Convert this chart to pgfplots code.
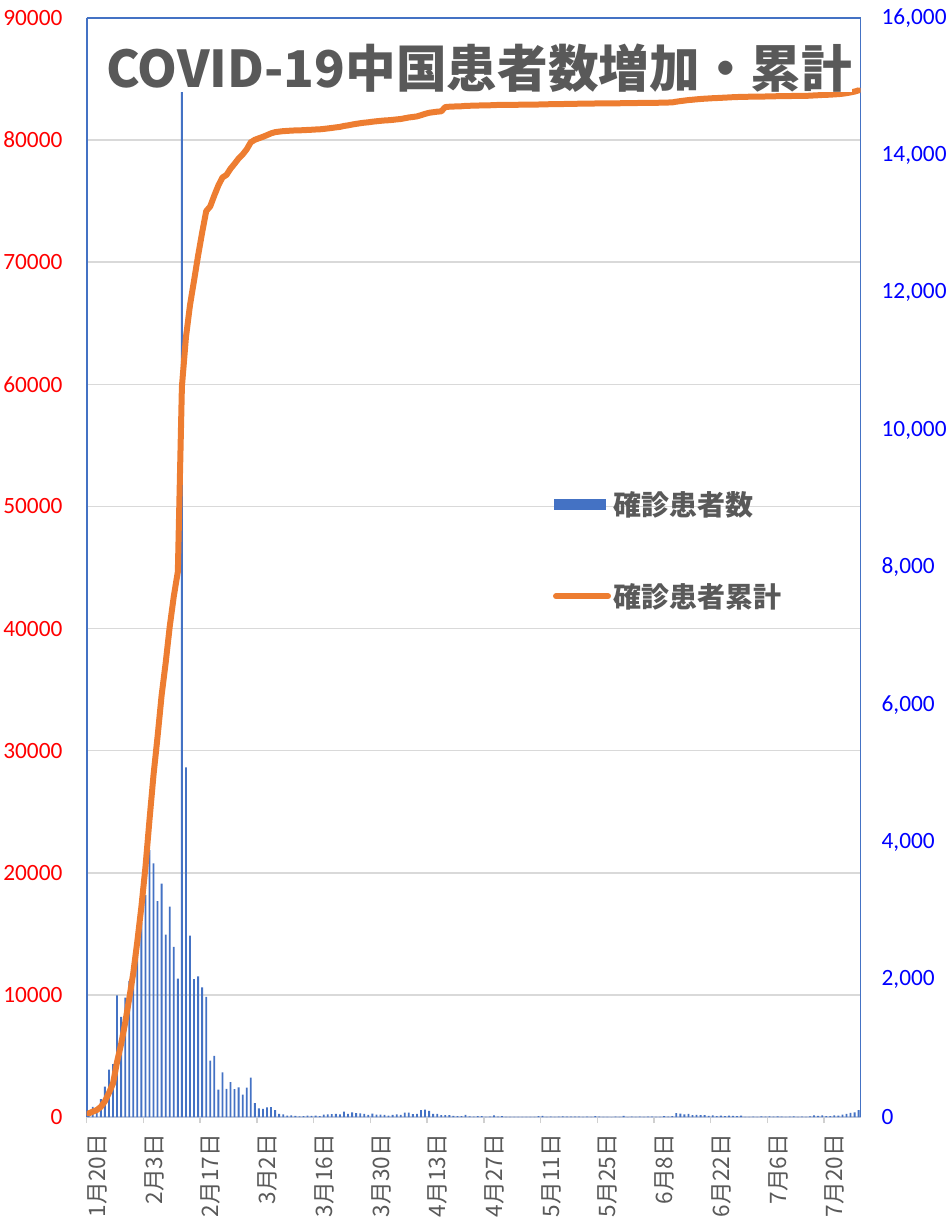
\documentclass[border=0pt]{standalone}
\usepackage{pgfplots}
\pgfplotsset{compat=1.18}
\usepackage{pgfplotstable}
\usepackage{fontspec}
\setmainfont{Carlito}
\newfontfamily\cjk{Noto Sans CJK JP}
\definecolor{barblue}{HTML}{4472C4}
\definecolor{lineorange}{HTML}{ED7D31}
\definecolor{gridgray}{HTML}{D9D9D9}
\definecolor{txtgray}{HTML}{595959}
\definecolor{axisgray}{HTML}{C3CBDC}
\definecolor{tickgray}{HTML}{D0D0D0}

% d = days since 1/20, new = daily confirmed, cum = cumulative confirmed
\pgfplotstableread{
d new cum
0 77 291
1 149 440
2 131 571
3 259 830
4 444 1287
5 688 1975
6 769 2744
7 1771 4515
8 1459 5974
9 1737 7711
10 1982 9692
11 2102 11791
12 2590 14380
13 2829 17205
14 3235 20438
15 3887 24324
16 3694 28018
17 3143 31161
18 3399 34546
19 2656 37198
20 3062 40171
21 2478 42638
22 2015 44653
23 15152 59804
24 5090 63851
25 2641 66492
26 2009 68500
27 2048 70548
28 1886 72436
29 1749 74185
30 820 74576
31 889 75465
32 397 76288
33 648 76936
34 409 77150
35 508 77658
36 406 78064
37 433 78497
38 327 78824
39 427 79251
40 573 79824
41 202 80026
42 125 80151
43 119 80270
44 139 80409
45 143 80552
46 99 80651
47 44 80695
48 40 80735
49 19 80754
50 24 80778
51 15 80793
52 8 80801
53 11 80812
54 20 80832
55 16 80848
56 21 80869
57 13 80882
58 34 80916
59 39 80955
60 41 80996
61 46 81042
62 39 81081
63 78 81159
64 47 81206
65 67 81273
66 55 81328
67 54 81382
68 45 81427
69 31 81458
70 48 81506
71 36 81542
72 35 81577
73 31 81608
74 19 81627
75 30 81657
76 39 81696
77 32 81728
78 62 81790
79 63 81853
80 42 81895
81 46 81941
82 99 82040
83 108 82148
84 89 82237
85 46 82283
86 46 82329
87 26 82355
88 26 82706
89 27 82733
90 16 82749
91 12 82761
92 11 82772
93 30 82802
94 10 82812
95 6 82818
96 12 82830
97 11 82841
98 3 82844
99 6 82850
100 22 82872
101 4 82876
102 12 82888
103 1 82889
104 2 82891
105 3 82894
106 1 82895
107 2 82897
108 2 82899
109 1 82900
110 1 82901
111 14 82915
112 17 82932
113 1 82933
114 7 82940
115 3 82943
116 4 82947
117 8 82955
118 6 82961
119 7 82968
120 6 82974
121 5 82979
122 2 82981
123 4 82985
124 3 82988
125 11 82999
126 7 83006
127 1 83007
128 2 83009
129 0 83009
130 4 83013
131 2 83015
132 16 83031
133 0 83031
134 4 83035
135 1 83036
136 5 83041
137 3 83044
138 6 83050
139 4 83054
140 3 83057
141 3 83060
142 11 83071
143 7 83078
144 11 83089
145 57 83146
146 49 83195
147 40 83235
148 44 83279
149 28 83307
150 32 83339
151 27 83366
152 26 83392
153 18 83410
154 22 83432
155 12 83444
156 19 83463
157 13 83476
158 21 83497
159 17 83514
160 12 83526
161 19 83545
162 3 83548
163 3 83551
164 5 83556
165 3 83559
166 8 83567
167 4 83571
168 8 83579
169 7 83586
170 9 83595
171 4 83599
172 2 83601
173 7 83608
174 8 83616
175 3 83619
176 6 83625
177 1 83626
178 10 83636
179 22 83658
180 16 83674
181 22 83696
182 11 83707
183 14 83721
184 22 83743
185 21 83764
186 34 83798
187 46 83844
188 61 83905
189 68 83973
190 101 84074
}\covid

\begin{document}
\begin{tikzpicture}[x=1pt,y=1pt]
\path[use as bounding box] (0,0) rectangle (713.25,913.5);
\pgfplotsset{base/.style={scale only axis, width=580.5pt, height=824.25pt,
  at={(65pt,75.75pt)}, anchor=south west, xmin=0, xmax=191,
  scaled y ticks=false, /pgf/number format/assume math mode=true}}

% left scale: grid, axis lines, date labels
\begin{axis}[base, ymin=0, ymax=90000, ytick={0,10000,...,90000},
  ymajorgrids, grid style={gridgray, line width=1.1pt},
  axis x line*=bottom, axis y line*=left,
  x axis line style={axisgray, line width=1.2pt, -},
  y axis line style={barblue, line width=1.3pt, -},
  xtick={0,14,...,182},
  xticklabels={1月20日,2月3日,2月17日,3月2日,3月16日,3月30日,4月13日,4月27日,5月11日,5月25日,6月8日,6月22日,7月6日,7月20日},
  tick align=outside, major tick length=4.5pt,
  xtick style={tickgray, line width=1.1pt},
  ytick style={draw=none},
  yticklabel style={color=red, font=\fontsize{17.5}{17.5}\selectfont, inner sep=0pt, xshift=-13.5pt, /pgf/number format/1000 sep={}},
  xticklabel style={rotate=90, anchor=east, inner sep=0pt, font=\cjk\fontsize{17}{17}\selectfont, color=txtgray, xshift=-8pt, yshift=-8pt}]
\addplot[draw=none, forget plot] coordinates {(0,0)};
\end{axis}

% right scale: daily bars
\begin{axis}[base, ymin=0, ymax=16000, ytick={0,2000,...,16000},
  axis y line*=right, axis x line*=top, xtick=\empty,
  x axis line style={barblue, line width=1pt, -},
  y axis line style={barblue, line width=1pt, -},
  ytick style={draw=none},
  yticklabel style={color=blue, font=\fontsize{17.5}{17.5}\selectfont, inner sep=0pt, xshift=15.5pt, /pgf/number format/1000 sep={,}}]
\addplot[ybar, bar width=0.45, fill=barblue, draw=none] table[x expr=\thisrow{d}+0.5, y=new] {\covid};
\end{axis}

% left scale: cumulative line + legend
\begin{axis}[base, ymin=0, ymax=90000, hide axis,
  legend cell align=left,
  legend style={at={(rel axis cs:0.597,0.5745)}, anchor=north west, draw=none, fill=none,
    row sep=45.5pt, column sep=0pt,
    font=\cjk\bfseries\fontsize{21}{21}\selectfont, text=txtgray}]
\addlegendimage{legend image code/.code={\fill[barblue] (0pt,-3.75pt) rectangle (38pt,3.75pt);}}
\addlegendentry{確診患者数}
\addplot[lineorange, line width=4.5pt, line join=round, line cap=round,
  legend image code/.code={\draw[lineorange, line width=4.5pt, line cap=round] (1pt,0pt) -- (40pt,0pt);}]
  table[x expr=\thisrow{d}+0.5, y=cum] {\covid};
\addlegendentry{確診患者累計}
\end{axis}

\node[anchor=base west, fill=white, inner sep=0pt, text=txtgray,
  font=\cjk\bfseries\fontsize{38}{38}\selectfont] at (79.5,847.9) {COVID-19中国患者数増加・累計};
\end{tikzpicture}
\end{document}
